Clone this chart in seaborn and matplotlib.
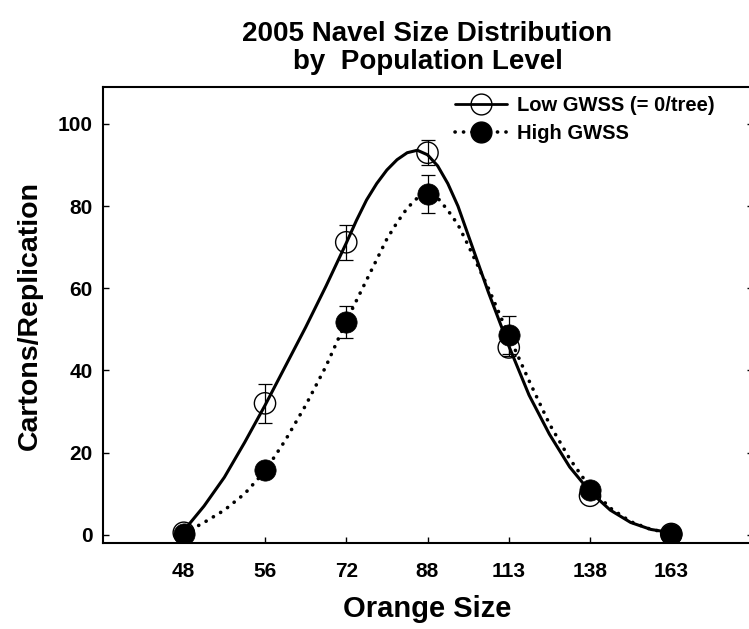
import matplotlib
matplotlib.use("Agg")
import matplotlib.pyplot as plt
from matplotlib.lines import Line2D
import numpy as np
import pandas as pd
import seaborn as sns

# category labels (orange size) and measured means / SE
sizes = ["48", "56", "72", "88", "113", "138", "163"]
low_mean = [0.5, 32.0, 71.2, 93.0, 45.6, 9.5, 0.2]
low_err = [0.0, 4.8, 4.2, 3.0, 2.0, 0.0, 0.0]
high_mean = [0.2, 15.7, 51.9, 83.0, 48.6, 11.0, 0.2]
high_err = [0.0, 0.0, 3.9, 4.6, 4.6, 0.0, 0.0]

# fitted curves, positions in category units
curve_pos = [0, 0.25, 0.5, 0.75, 1.0, 1.25, 1.5, 1.75, 2.0, 2.125, 2.25, 2.375, 2.5,
             2.625, 2.75, 2.875, 3.0, 3.125, 3.25, 3.375, 3.5, 3.75, 4.0, 4.25, 4.5,
             4.75, 5.0, 5.25, 5.5, 5.75, 6.0]
low_curve = [1.0, 7.0, 14.0, 22.5, 31.5, 41.0, 50.5, 60.5, 71.0, 76.5, 81.5, 85.5, 88.8,
             91.3, 93.0, 93.6, 92.5, 89.8, 85.5, 80.0, 73.0, 59.0, 46.0, 34.0, 24.5,
             16.5, 10.5, 6.0, 3.0, 1.3, 0.5]
high_curve = [0.3, 3.0, 6.0, 10.0, 15.5, 23.0, 31.5, 41.0, 52.0, 57.0, 62.0, 67.0, 72.0,
              76.0, 79.5, 82.0, 83.0, 82.0, 79.0, 75.5, 70.5, 60.0, 48.5, 37.5, 27.0,
              18.5, 11.5, 6.5, 3.2, 1.3, 0.4]

pos = np.arange(len(sizes))
curves = pd.DataFrame({"pos": curve_pos, "low": low_curve, "high": high_curve})

sns.set_style("ticks")
plt.rcParams["font.family"] = ["Liberation Sans", "DejaVu Sans"]
plt.rcParams["font.weight"] = "bold"
for key in ["text.color", "axes.labelcolor", "axes.edgecolor", "xtick.color", "ytick.color"]:
    plt.rcParams[key] = "black"

fig = plt.figure(figsize=(7.49, 6.29), dpi=100)
ax = fig.add_axes([102.5 / 749, 1 - 543 / 629, 650 / 749, (543 - 87) / 629])

dots = (0, (0.05, 2.3))
sns.lineplot(data=curves, x="pos", y="low", ax=ax, color="black", lw=2.2)
sns.lineplot(data=curves, x="pos", y="high", ax=ax, color="black", lw=2.6,
             linestyle=dots, dash_capstyle="round")

ax.errorbar(pos, low_mean, yerr=low_err, fmt="none", ecolor="black",
            elinewidth=0.9, capsize=5, capthick=0.9, zorder=3)
ax.errorbar(pos, high_mean, yerr=high_err, fmt="none", ecolor="black",
            elinewidth=0.9, capsize=5, capthick=0.9, zorder=3)
sns.scatterplot(x=pos, y=low_mean, ax=ax, s=235, facecolor="none",
                edgecolor="black", linewidth=1.0, zorder=4)
sns.scatterplot(x=pos, y=high_mean, ax=ax, s=235, color="black",
                edgecolor="black", linewidth=0.5, zorder=5)

ax.set_xlim(-1, 7)
ax.set_ylim(-2, 109)
ax.set_xticks(pos)
ax.set_xticklabels(sizes)
ax.set_yticks([0, 20, 40, 60, 80, 100])
ax.tick_params(direction="in", length=4, width=1.0, labelsize=15, right=True)
ax.tick_params(axis="x", pad=14)
ax.tick_params(axis="y", pad=7)
for lab in ax.get_xticklabels() + ax.get_yticklabels():
    lab.set_fontweight("bold")
for side in ["left", "bottom", "top"]:
    ax.spines[side].set_linewidth(1.5)
ax.spines["right"].set_visible(False)

ax.set_xlabel("Orange Size", fontsize=21, fontweight="bold", labelpad=10)
ax.set_ylabel("Cartons/Replication", fontsize=20.5, fontweight="bold", labelpad=11)
ax.set_title("2005 Navel Size Distribution\nby  Population Level", fontsize=20,
             fontweight="bold", pad=13, linespacing=1.1)

handles = [
    Line2D([], [], color="black", lw=2.0, marker="o", markersize=15,
           markerfacecolor="none", markeredgecolor="black", markeredgewidth=1.0),
    Line2D([], [], color="black", lw=2.6, linestyle=dots,
           dash_capstyle="round", marker="o", markersize=15,
           markerfacecolor="black", markeredgecolor="black"),
]
ax.legend(handles, ["Low GWSS (= 0/tree)", "High GWSS"], loc="upper left",
          bbox_to_anchor=(455 / 749, 1 - 96 / 629), bbox_transform=fig.transFigure,
          frameon=False, prop={"weight": "bold", "size": 14.5},
          handlelength=2.6, handletextpad=0.5, borderpad=0, borderaxespad=0,
          labelspacing=0.45)

fig.savefig("out.png", dpi=100)
